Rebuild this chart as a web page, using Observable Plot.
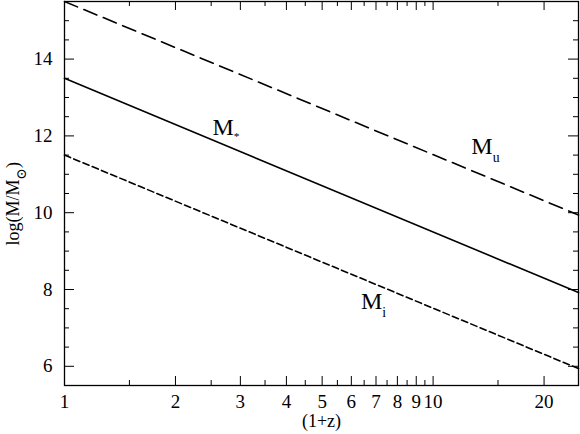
<!DOCTYPE html>
<html><head><meta charset="utf-8">
<script src="https://cdn.jsdelivr.net/npm/d3@7"></script>
<script src="https://cdn.jsdelivr.net/npm/@observablehq/plot@0.6"></script>
<style>body{margin:0;background:#fff;} #chart{width:580px;height:434px;}</style>
</head><body><div id="chart"></div>
<script>
// data
const onePlusZ = [1, 24.8];
const logMu = [15.5, 9.94];
const logMstar = [13.5, 7.92];
const logMi = [11.5, 5.94];
const xMajorTicks = [1, 2, 3, 4, 5, 6, 7, 8, 9, 10, 20];
const xMinorTicks = [1.5, 2.5, 3.5, 4.5, 5.5, 6.5, 7.5, 8.5, 9.5, 15];
const yMajorTicks = [6, 8, 10, 12, 14];
const yMinorTicks = [6.5, 7, 7.5, 8.5, 9, 9.5, 10.5, 11, 11.5, 12.5, 13, 13.5, 14.5, 15];
const seriesNames = ["Mu", "Mstar", "Mi"];
const labelText = ["M_u", "M_*", "M_i"];
const labelX = [12.7, 2.52, 6.37];
const labelY = [11.72, 12.22, 7.68];

const W = 580, H = 434, mL = 64, mR = 2, mT = 1, mB = 49;
const pW = W - mL - mR, pH = H - mT - mB;
const font = "'Liberation Serif', 'DejaVu Serif', serif";

const rows = (vals, name) => onePlusZ.map((x, i) => ({x, y: vals[i], name}));
const mu = rows(logMu, seriesNames[0]);
const ms = rows(logMstar, seriesNames[1]);
const mi = rows(logMi, seriesNames[2]);
const labels = labelText.map((t, i) => ({t, x: labelX[i], y: labelY[i]}));

const chart = Plot.plot({
  width: W, height: H,
  marginLeft: mL, marginRight: mR, marginTop: mT, marginBottom: mB,
  style: {fontFamily: font, fontSize: "19px", color: "#000", background: "#fff"},
  x: {type: "log", domain: [1, 24.8], axis: null},
  y: {domain: [5.5, 15.5], axis: null},
  marks: [
    Plot.line(mu, {x: "x", y: "y", stroke: "#000", strokeWidth: 1.6, strokeDasharray: "14,7"}),
    Plot.line(ms, {x: "x", y: "y", stroke: "#000", strokeWidth: 1.6}),
    Plot.line(mi, {x: "x", y: "y", stroke: "#000", strokeWidth: 1.6, strokeDasharray: "6.5,3.5"}),
    // ticks, inside on all four sides
    Plot.tickX(xMajorTicks, {x: d => d, insetTop: pH - 9, stroke: "#000"}),
    Plot.tickX(xMajorTicks, {x: d => d, insetBottom: pH - 9, stroke: "#000"}),
    Plot.tickX(xMinorTicks, {x: d => d, insetTop: pH - 5, stroke: "#000"}),
    Plot.tickX(xMinorTicks, {x: d => d, insetBottom: pH - 5, stroke: "#000"}),
    Plot.tickY(yMajorTicks, {y: d => d, insetRight: pW - 10, stroke: "#000"}),
    Plot.tickY(yMajorTicks, {y: d => d, insetLeft: pW - 10, stroke: "#000"}),
    Plot.tickY(yMinorTicks, {y: d => d, insetRight: pW - 5, stroke: "#000"}),
    Plot.tickY(yMinorTicks, {y: d => d, insetLeft: pW - 5, stroke: "#000"}),
    Plot.frame({stroke: "#000", strokeWidth: 1.3}),
    Plot.axisX({ticks: xMajorTicks, tickSize: 0, tickPadding: 9, tickFormat: d => String(d), label: null, fill: "#000", fontSize: 19}),
    Plot.axisY({ticks: yMajorTicks, tickSize: 0, tickPadding: 12, tickFormat: d => String(d), label: null, fill: "#000", fontSize: 19}),
    Plot.text(["(1+z)"], {frameAnchor: "bottom", dy: 41, fontSize: 18, fill: "#000"}),
    Plot.text(["log(M/M_⊙)"], {frameAnchor: "left", dx: -51, dy: 52, rotate: -90, textAnchor: "start", fontSize: 18, fill: "#000"}),
    Plot.text(labels, {x: "x", y: "y", text: "t", textAnchor: "start", fontSize: 24, fill: "#000"})
  ]
});

// turn "_x" into a subscript tspan
chart.querySelectorAll("text").forEach(t => {
  const s = t.textContent;
  const i = s.indexOf("_");
  if (i < 0) return;
  const fs = parseFloat(t.getAttribute("font-size") || getComputedStyle(t).fontSize) || 19;
  const before = s.slice(0, i), sub = s[i + 1], after = s.slice(i + 2);
  const NS = "http://www.w3.org/2000/svg";
  while (t.firstChild) t.removeChild(t.firstChild);
  t.appendChild(document.createTextNode(before));
  const shift = sub === "*" ? 0.28 * fs : 0.38 * fs;
  const ts = document.createElementNS(NS, "tspan");
  ts.setAttribute("dy", shift);
  ts.setAttribute("font-size", (sub === "*" ? 0.6 : 0.72) * fs);
  ts.setAttribute("fill", "#000");
  ts.textContent = sub;
  t.appendChild(ts);
  if (after) {
    const ta = document.createElementNS(NS, "tspan");
    ta.setAttribute("dy", -shift);
    ta.setAttribute("fill", "#000");
    ta.textContent = after;
    t.appendChild(ta);
  }
});

document.getElementById("chart").appendChild(chart);
</script>
</body></html>
